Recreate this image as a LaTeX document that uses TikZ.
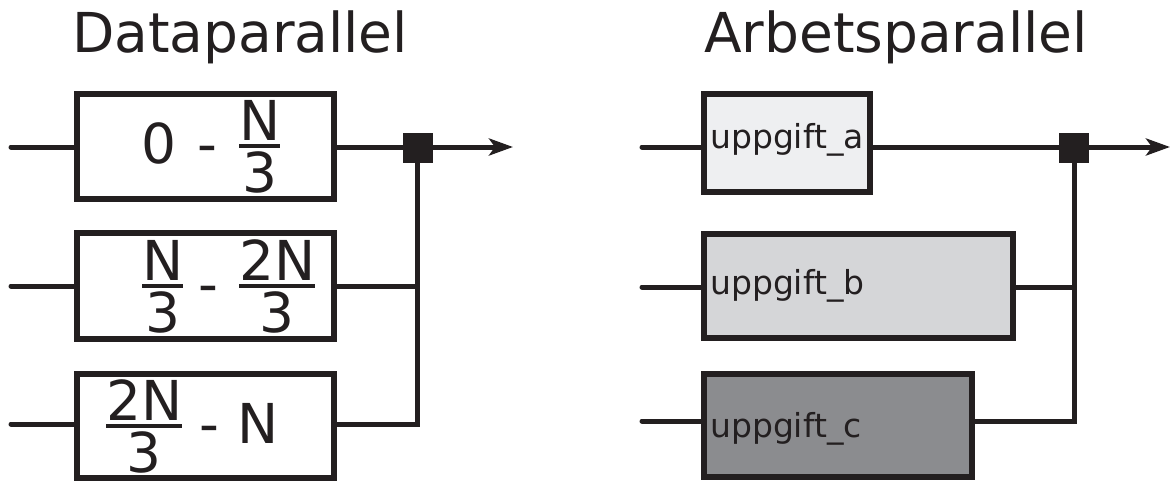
\documentclass[tikz,border=0pt]{standalone}
\usepackage{fontspec}
\setmainfont{DejaVu Sans}
\usetikzlibrary{arrows.meta}
\definecolor{ink}{HTML}{231F20}
\definecolor{filla}{RGB}{238,239,241}
\definecolor{fillb}{RGB}{213,214,216}
\definecolor{fillc}{RGB}{139,140,143}
\newcommand{\fr}[2]{\raisebox{-29pt}{\vbox{\halign{\hfil##\hfil\cr#1\cr\noalign{\kern3pt\hrule height4.5pt\kern3pt}#2\cr}}}}
\tikzset{
  blk/.style={draw=ink, line width=5.4pt, inner sep=0pt, outer sep=0pt},
  wire/.style={draw=ink, line width=5pt},
  instub/.style={wire, line cap=round},
  outarrow/.style={wire, -{Stealth[length=24pt,width=17pt,inset=6pt]}},
  junc/.style={fill=ink, draw=none, minimum size=30pt, inner sep=0pt, outer sep=0pt},
  bigtxt/.style={text=ink, inner sep=0pt, font=\fontsize{55}{66}\selectfont},
  smalltxt/.style={text=ink, inner sep=0pt, anchor=base west, font=\fontsize{33}{40}\selectfont},
}
\begin{document}
\begin{tikzpicture}[x=1pt,y=-1pt]
\useasboundingbox (0,0) rectangle (1171,480);
% titles
\node[bigtxt, anchor=base] (tl) at (240,52) {Dataparallel};
\node[bigtxt, anchor=base] (tr) at (896,52) {Arbetsparallel};
% left boxes
\node[blk, fill=white, minimum width=257pt, minimum height=105pt] (b1) at (205.5,146.5) {};
\node[blk, fill=white, minimum width=257pt, minimum height=106pt] (b2) at (205.5,286) {};
\node[blk, fill=white, minimum width=257pt, minimum height=104pt] (b3) at (205.5,426) {};
\node[bigtxt, anchor=base west] (l1) at (141.5,163) {0\hspace{20.5pt}-\hspace{22pt}\fr{N}{3}};
\node[bigtxt, anchor=base west] (l2) at (142,303) {\fr{N}{3}\hspace{15pt}-\hspace{21pt}\fr{2N}{3}};
\node[bigtxt, anchor=base west] (l3) at (106,443) {\fr{2N}{3}\hspace{17pt}-\hspace{18.5pt}N};
% left wiring
\coordinate (i1) at (11,147);
\coordinate (i2) at (11,286);
\coordinate (i3) at (11,424);
\node[junc] (j1) at (417.5,147.5) {};
\coordinate (o1) at (513,147);
\draw[instub] (i1) -- (i1 -| b1.west);
\draw[instub] (i2) -- (i2 -| b2.west);
\draw[instub] (i3) -- (i3 -| b3.west);
\draw[wire] (b1.east |- i1) -- (j1.center |- i1);
\draw[outarrow] (j1.center |- i1) -- (o1);
\draw[wire] (b2.east |- i2) -- (j1.center |- i2);
\draw[wire, line join=miter] (b3.east |- i3) -- (j1.center |- i3) -- (j1.center);
\node[junc] at (j1) {};
% right boxes
\node[blk, fill=filla, minimum width=166pt, minimum height=98pt] (ba) at (787,143) {};
\node[blk, fill=fillb, minimum width=309pt, minimum height=104pt] (bb) at (858.5,286) {};
\node[blk, fill=fillc, minimum width=268pt, minimum height=103pt] (bc) at (838,425.5) {};
\node[smalltxt] (la) at (710,148) {uppgift\_a};
\node[smalltxt] (lb) at (710,294) {uppgift\_b};
\node[smalltxt] (lc) at (710,437) {uppgift\_c};
% right wiring
\coordinate (ia) at (642,147);
\coordinate (ib) at (642,287);
\coordinate (ic) at (642,421);
\node[junc] (j2) at (1074,147.5) {};
\coordinate (o2) at (1170,147);
\draw[instub] (ia) -- (ia -| ba.west);
\draw[instub] (ib) -- (ib -| bb.west);
\draw[instub] (ic) -- (ic -| bc.west);
\draw[wire] (ba.east |- ia) -- (j2.center |- ia);
\draw[outarrow] (j2.center |- ia) -- (o2);
\draw[wire] (bb.east |- ib) -- (j2.center |- ib);
\draw[wire, line join=miter] (bc.east |- ic) -- (j2.center |- ic) -- (j2.center);
\node[junc] at (j2) {};
\end{tikzpicture}
\end{document}
